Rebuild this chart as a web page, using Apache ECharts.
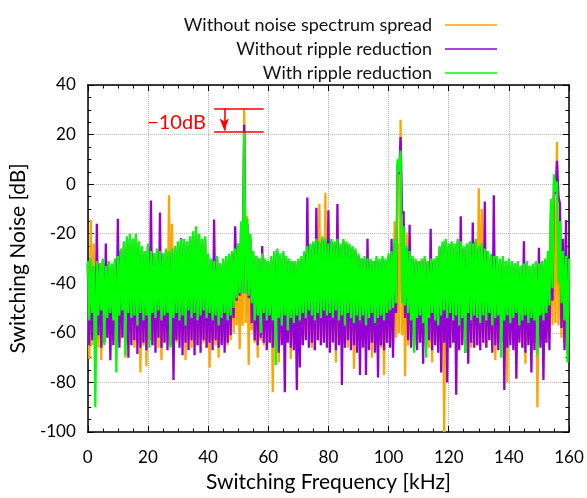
<!DOCTYPE html>
<html lang="en">
<head>
    <meta charset="UTF-8">
    <title>Switching Noise Spectrum</title>
    <script src="https://cdn.jsdelivr.net/npm/echarts@6/dist/echarts.min.js"></script>
    <style>
        * {padding: 0; margin: 0;}
        body {background: #fff;}
        #main {width: 587px; height: 498px;}
    </style>
</head>
<body>
    <div id="main"></div>
    <script>
        // spectrum, one bin per kHz: upper (hi) and lower (lo) excursion of each bin
        const seriesNames = ['Without noise spectrum spread', 'Without ripple reduction', 'With ripple reduction'];
        const seriesColors = ['#ffa500', '#9400d3', '#00ff00'];

        const orangeHi = [
            -33, -14.5, -24, -32, -34, -31, -33, -32, -34, -32,
            -30, -28, -26, -24, -23, -24, -22, -25, -27, -28,
            -26, -28, -29, -28, -28, -29, -28, -4.5, -16, -27,
            -25, -24, -24, -25, -23, -21, -20, -22, -24, -23,
            -30, -31, -32, -31, -33, -31, -30, -29, -28, -27,
            -24, -30, 30.5, -13, -22, -29, -30, -31, -29, -31,
            -32, -30, -29, -28, -30, -29, -31, -32, -32, -33,
            -31, -30, -29, -27, -26, -25, -24, -8, -23, -3.5,
            -25, -24, -25, -24, -26, -24, -25, -26, -27, -28,
            -30, -31, -31, -32, -32, -33, -31, -32, -31, -32,
            -30, -29, -15, -24, 26, -20, -19.5, -29, -31, -32,
            -32, -32, -31, -32, -31, -32, -31, -27, -25, -24,
            -26, -25, -26, -24, -25, -27, -26, -25, -26, -24,
            -1.7, -10, -27, -29, -30, -31, -31, -32, -31, -33,
            -32, -33, -33, -32, -34, -33, -32, -34, -33, -32,
            -33, -32, -31, -29, -15, -5, 17, -20, -23.5, -30,
            -31
        ];
        const orangeLo = [
            -70.5, -65, -63, -66, -71, -64, -62, -65, -63, -66,
            -64, -62, -70, -65, -63, -66, -64, -76, -65, -73.5,
            -63, -65, -62, -66, -71, -64, -63, -65, -66, -64,
            -62, -65, -71, -63, -66, -64, -65, -62, -64, -66,
            -74, -63, -65, -70, -64, -62, -65, -63, -60, -57,
            -66.6, -57, -56, -73, -59, -64, -70, -63, -65, -62,
            -64, -84, -66, -72, -63, -65, -62, -70.5, -64, -66,
            -63, -65, -62, -64, -66, -67, -63, -65, -62, -64,
            -66, -63, -72, -62, -65, -64, -66, -63, -74.5, -64,
            -65, -63, -66, -64, -70, -65, -63, -66, -77, -64,
            -63, -65, -62, -60, -61, -77.5, -65, -63, -66, -64,
            -62, -65, -63, -66, -72, -64, -62, -65, -100, -63,
            -66, -64, -62, -65, -63, -68, -64, -66, -63, -65,
            -62, -64, -66, -63, -65, -71, -64, -62, -66, -80,
            -63, -65, -64, -62, -66, -72.5, -63, -65, -64, -90,
            -63, -66, -64, -62, -57, -56, -57, -62, -64, -65
        ];

        const purpleHi = [
            -32, -31, -33, -16, -32, -31, -24, -32, -33, -31,
            -14, -27, -25, -23, -22, -23, -21, -24, -26, -27,
            -25, -6.6, -28, -27, -11.4, -28, -27, -28, -27, -26,
            -24, -21.7, -23, -24, -22, -20, -19, -21, -23, -22,
            -29, -31, -14.3, -30, -32, -31, -30, -29, -28, -17,
            -25, -16, 24, -16, -21, -28, -29, -30, -25, -31,
            -31, -30, -28, -27, -29, -28, -30, -31, -31, -32,
            -31, -30, -28, -5.4, -25, -24, -9.5, -24, -22, -23,
            -10.5, -23, -24, -8, -25, -23, -24, -25, -26, -27,
            -29, -30, -30, -22, -31, -31, -30, -31, -30, -31,
            -29, -22, -24, 8, 19, -11, -26, -16.4, -30, -31,
            -31, -31, -30, -31, -18, -31, -30, -26, -24, -23,
            -25, -24, -25, -23, -13, -26, -25, -24, -15.5, -23,
            -26, -25, -7, -27, -29, -4.5, -30, -31, -30, -31,
            -31, -32, -32, -32, -33, -23, -32, -33, -33, -32,
            -25.7, -32, -31, -30, -12, 0, 9.4, -8, -22, -14.5,
            -30
        ];
        const purpleLo = [
            -65, -63, -67, -61, -66, -64, -62, -71, -65, -63,
            -66, -62, -64, -70, -65, -63, -68.5, -66, -64, -67,
            -63, -65, -68, -62, -66, -64, -67, -65, -79, -63,
            -66, -69, -64, -67, -63, -69, -65, -68, -63, -66,
            -64, -67, -63, -66, -65, -68, -64, -61, -54, -47,
            -45, -44, -44, -46, -56, -63, -65, -62, -64, -67,
            -64, -66, -63, -68, -65, -84, -64, -66, -67, -83,
            -74, -65, -63, -66, -64, -67, -63, -65, -64, -66,
            -68, -64, -67, -65, -81, -66, -63, -67, -65, -68,
            -77, -66, -77, -67, -64, -68, -78, -65, -67, -64,
            -66, -70, -52, 4, -12, -54, -63, -66, -65, -67,
            -64, -72.5, -66, -63, -67, -65, -68, -76, -64, -80,
            -66, -64, -85, -67, -65, -68, -72.5, -64, -66, -65,
            -67, -64, -66, -63, -68, -65, -67, -64, -83, -66,
            -65, -67, -78.5, -64, -66, -68, -65, -76, -67, -65,
            -66, -79, -64, -67, -47, -4, -5, -58, -67, -68
        ];

        const greenHi = [
            -31, -30, -33, -31, -32, -30, -33, -31, -32, -30,
            -29, -26, -23, -21, -20, -22, -20, -23, -25, -27,
            -24, -27, -28, -26, -27, -28, -26, -27, -26, -25,
            -23, -22, -22, -23, -21, -19, -17, -20, -22, -21,
            -28, -30, -31, -29, -32, -30, -29, -28, -27, -26,
            -24, -15, 21, -14, -20, -27, -29, -30, -28, -30,
            -31, -29, -27, -26, -28, -27, -29, -30, -31, -31,
            -30, -29, -27, -25, -24, -23, -22, -23, -21, -22,
            -24, -22, -23, -22, -24, -22, -23, -24, -25, -26,
            -28, -30, -29, -30, -30, -31, -29, -30, -29, -30,
            -28, -27, -22, 10, 13.5, -17, -25, -27, -29, -30,
            -31, -30, -29, -31, -30, -30, -29, -25, -23, -22,
            -24, -23, -24, -22, -23, -25, -24, -23, -24, -22,
            -25, -24, -26, -27, -28, -29, -29, -30, -29, -31,
            -30, -31, -32, -31, -33, -32, -31, -33, -32, -31,
            -32, -31, -30, -27, -6, 4, 1, -15, -27, -29,
            -30
        ];
        const greenLo = [
            -55, -52, -90, -53, -51, -65, -54, -52, -55, -76,
            -53, -51, -69, -52, -54, -53, -57, -52, -55, -53,
            -66, -52, -54, -51, -55, -53, -52, -66, -54, -52,
            -55, -53, -57, -51, -54, -52, -55, -53, -51, -54,
            -52, -55, -53, -57, -54, -52, -55, -53, -50, -46,
            -44, -44, -44, -45, -48, -55, -53, -60, -52, -55,
            -53, -55, -73, -54, -57, -53, -59, -54, -56, -53,
            -55, -52, -54, -51, -53, -55, -52, -54, -51, -53,
            -52, -54, -51, -55, -53, -57, -52, -54, -56, -53,
            -55, -53, -57, -54, -52, -56, -54, -53, -55, -52,
            -51, -50, -48, 5, -48, -49, -52, -55, -68, -54,
            -53, -56, -70, -54, -52, -55, -57, -53, -51, -54,
            -52, -55, -53, -57, -54, -68, -52, -55, -53, -54,
            -56, -53, -55, -52, -57, -54, -53, -70, -55, -53,
            -56, -54, -52, -57, -55, -53, -56, -54, -55, -69,
            -53, -55, -52, -49, -42, -3, -40, -48, -55, -72
        ];

        // "-10dB" annotation
        const annoLevels = [30.5, 21.2];
        const annoFrom = 42, annoTo = 58.5, arrowAt = 45.4;
        const annoText = [29.5, 25];

        // each bin: peak at k kHz, trough half a bin later
        function spectrum(hi, lo) {
            let out = [];
            for (let k = 0; k < hi.length; ++k) {
                out.push([k, hi[k]]);
                if (k < lo.length) out.push([k + 0.5, lo[k]]);
            }
            return out;
        }

        const chart = echarts.init(document.getElementById('main'));
        const font = 'Lato, "Open Sans", sans-serif';
        const black = '#000';
        const red = '#ff0000';

        function axisBase(pos, showLabel) {
            return {
                type: 'value',
                position: pos,
                axisLine: {show: true, onZero: false, lineStyle: {color: black, width: 1.5}},
                axisTick: {show: true, inside: true, length: 6, lineStyle: {color: black, width: 1}},
                minorTick: {show: true, splitNumber: 4, length: 3.5, lineStyle: {color: black, width: 1}},
                axisLabel: {show: showLabel, color: black, fontSize: 17, fontFamily: font},
                splitLine: {show: showLabel, lineStyle: {color: '#b0b0b0', type: 'dotted', width: 1}}
            };
        }

        const xBottom = Object.assign(axisBase('bottom', true), {
            min: 0, max: 160, interval: 20,
            name: 'Switching Frequency [kHz]', nameLocation: 'middle', nameGap: 40,
            nameTextStyle: {color: black, fontSize: 21, fontFamily: font}
        });
        xBottom.axisLabel.margin = 17;
        const xTop = Object.assign(axisBase('top', false), {min: 0, max: 160, interval: 20});

        const yLeft = Object.assign(axisBase('left', true), {
            min: -100, max: 40, interval: 20,
            name: 'Switching Noise [dB]', nameLocation: 'middle', nameGap: 49,
            nameTextStyle: {color: black, fontSize: 21, fontFamily: font}
        });
        yLeft.axisLabel.margin = 12;
        const yRight = Object.assign(axisBase('right', false), {min: -100, max: 40, interval: 20});

        const his = [orangeHi, purpleHi, greenHi];
        const los = [orangeLo, purpleLo, greenLo];

        const series = seriesNames.map(function(name, i) {
            return {
                name: name,
                type: 'line',
                data: spectrum(his[i], los[i]),
                showSymbol: false,
                symbol: 'none',
                animation: false,
                silent: true,
                color: seriesColors[i],
                lineStyle: {width: 2.3, color: seriesColors[i], join: 'bevel'}
            };
        });

        const redLine = {color: red, width: 1.6, type: 'solid'};
        series[2].markLine = {
            silent: true,
            animation: false,
            symbol: ['none', 'none'],
            label: {show: false},
            lineStyle: redLine,
            itemStyle: {color: red},
            data: [
                [{coord: [annoFrom, annoLevels[0]], lineStyle: redLine}, {coord: [annoTo, annoLevels[0]]}],
                [{coord: [annoFrom, annoLevels[1]], lineStyle: redLine}, {coord: [annoTo, annoLevels[1]]}],
                [{coord: [arrowAt, annoLevels[0]], symbol: 'none', lineStyle: redLine, itemStyle: {color: red}},
                 {coord: [arrowAt, annoLevels[1] + 0.4], symbol: 'arrow', symbolSize: [7, 12], itemStyle: {color: red}}]
            ]
        };
        series[2].markPoint = {
            silent: true,
            animation: false,
            data: [{
                coord: annoText,
                symbol: 'circle',
                symbolSize: 1,
                itemStyle: {color: 'rgba(0,0,0,0)'},
                label: {show: true, position: 'inside', formatter: '\u221210dB',
                        color: red, fontSize: 20, fontFamily: font}
            }]
        };

        chart.setOption({
            animation: false,
            grid: {left: 86, right: 18, top: 85, bottom: 61},
            legend: {
                data: seriesNames,
                orient: 'vertical',
                right: 85,
                top: 11,
                align: 'right',
                icon: 'rect',
                itemWidth: 52,
                itemHeight: 1.5,
                itemGap: 6,
                textStyle: {color: '#111', fontSize: 18, fontFamily: font, padding: [0, 8, 0, 0]}
            },
            xAxis: [xBottom, xTop],
            yAxis: [yLeft, yRight],
            series: series
        });
    </script>
</body>
</html>
